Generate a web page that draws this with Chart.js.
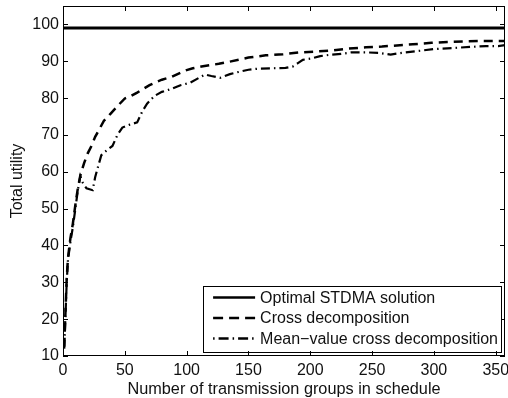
<!DOCTYPE html>
<html>
<head>
<meta charset="utf-8">
<script src="https://cdn.jsdelivr.net/npm/chart.js@4/dist/chart.umd.min.js"></script>
<style>
  html, body { margin: 0; padding: 0; background: #fff; }
  #wrap { width: 508px; height: 398px; }
</style>
</head>
<body>
<div id="wrap"><canvas id="chart"></canvas></div>
<script>
// series
const seriesNames = ["Optimal STDMA solution", "Cross decomposition", "Mean\u2212value cross decomposition"];

const optimalX = [0, 357.5];
const optimalY = [99, 99];

const crossX = [1, 2, 3, 4, 6, 8, 10, 12, 14, 17, 20, 23, 26, 29, 33, 38, 44, 50, 55, 60, 65, 70, 75, 80, 88, 95, 100, 105, 112, 120, 126, 135, 142, 150, 164, 178, 191, 203, 217, 230, 245, 258, 270, 283, 298, 311, 325, 339, 351, 357.5];
const crossY = [12.5, 22, 31, 36.5, 42, 46, 51, 55.5, 59, 62.3, 65, 67, 69.5, 71.3, 73.8, 75.6, 77.8, 79.9, 80.6, 81.5, 82.5, 83.5, 84.3, 85, 85.8, 86.9, 87.6, 88.1, 88.6, 89, 89.3, 89.9, 90.4, 91, 91.6, 91.9, 92.4, 92.6, 92.9, 93.4, 93.8, 94, 94.3, 94.6, 95, 95.2, 95.4, 95.5, 95.5, 95.5];

const meanX = [1, 2, 3, 4, 6, 8, 10, 12, 14, 16, 19, 24, 26, 28, 31, 36, 40, 44, 48, 54, 60, 64, 68, 74, 80, 88, 95, 103, 110, 115, 120, 127, 135, 142, 150, 158, 170, 180, 186, 190, 194, 200, 208, 217, 225, 233, 245, 255, 265, 272, 285, 300, 315, 330, 342, 352, 357.5];
const meanY = [12, 21, 30, 36, 41, 45, 50, 55, 58.8, 57, 55.5, 55, 58.5, 61, 64.5, 66, 67, 70, 72, 72.8, 73.4, 76.3, 78.5, 80.6, 81.7, 82.5, 83.5, 84.2, 85.5, 86.4, 86, 85.5, 86.5, 87.1, 87.7, 88, 88.1, 88.2, 88.6, 89.5, 90.4, 90.7, 91.4, 91.8, 92, 92.4, 92.4, 92.3, 91.8, 92.2, 92.7, 93.3, 93.6, 93.9, 94.1, 94.1, 94.4];

const xTicks = [0, 50, 100, 150, 200, 250, 300, 350];
const yTicks = [10, 20, 30, 40, 50, 60, 70, 80, 90, 100];

const FONT = "'Liberation Sans', Arial, Helvetica, sans-serif";
const ink = "#111";

function pts(xs, ys) {
  return xs.map((x, i) => ({ x: x, y: ys[i] }));
}

// box round the plot with matlab style ticks pointing inward
const boxTicks = {
  id: "boxTicks",
  afterDatasetsDraw(chart) {
    const { ctx, chartArea: a, scales } = chart;
    ctx.save();
    ctx.strokeStyle = "#000";
    ctx.lineWidth = 1;
    ctx.strokeRect(a.left + 0.5, a.top + 0.5, a.right - a.left - 1, a.bottom - a.top - 1);
    ctx.beginPath();
    xTicks.forEach(v => {
      const px = Math.round(scales.x.getPixelForValue(v)) + 0.5;
      ctx.moveTo(px, a.bottom); ctx.lineTo(px, a.bottom - 5);
      ctx.moveTo(px, a.top); ctx.lineTo(px, a.top + 5);
    });
    yTicks.forEach(v => {
      const py = Math.round(scales.y.getPixelForValue(v)) + 0.5;
      ctx.moveTo(a.left, py); ctx.lineTo(a.left + 5, py);
      ctx.moveTo(a.right, py); ctx.lineTo(a.right - 5, py);
    });
    ctx.stroke();
    ctx.restore();
  }
};

// legend box in the lower right corner of the plot
const boxLegend = {
  id: "boxLegend",
  afterDraw(chart) {
    const { ctx, chartArea: a } = chart;
    const sets = chart.data.datasets;
    ctx.save();
    ctx.font = "16px " + FONT;
    const textW = Math.max(...sets.map(d => ctx.measureText(d.label).width));
    const sample = 42, rowH = 20.5;
    const right = a.right - 4, bottom = a.bottom - 5;
    const w = 10 + sample + 5 + textW + 3;
    const h = rowH * sets.length + 4;
    const left = right - w, top = bottom - h;
    ctx.fillStyle = "#fff";
    ctx.fillRect(left, top, w, h);
    ctx.strokeStyle = "#000";
    ctx.lineWidth = 1;
    ctx.strokeRect(Math.round(left) + 0.5, Math.round(top) + 0.5, Math.round(w), Math.round(h));
    sets.forEach((d, i) => {
      const y = top + 12 + i * rowH;
      ctx.beginPath();
      ctx.setLineDash(d.legendDash || []);
      ctx.lineWidth = 2.5;
      ctx.strokeStyle = d.borderColor;
      ctx.moveTo(left + 10, y);
      ctx.lineTo(left + 10 + sample, y);
      ctx.stroke();
      ctx.setLineDash([]);
      ctx.fillStyle = ink;
      ctx.textBaseline = "middle";
      ctx.fillText(d.label, left + 10 + sample + 5, y + 1);
    });
    ctx.restore();
  }
};

new Chart(document.getElementById("chart"), {
  type: "line",
  data: {
    datasets: [
      { label: seriesNames[0], data: pts(optimalX, optimalY), borderColor: "#000", borderWidth: 3, pointRadius: 0, legendDash: [] },
      { label: seriesNames[1], data: pts(crossX, crossY), borderColor: "#000", borderWidth: 2.5, borderDash: [9, 6], pointRadius: 0, legendDash: [10, 6] },
      { label: seriesNames[2], data: pts(meanX, meanY), borderColor: "#000", borderWidth: 2.2, borderDash: [9, 4, 1.5, 4], pointRadius: 0, legendDash: [1.5, 4, 10, 4] }
    ]
  },
  options: {
    responsive: true,
    maintainAspectRatio: false,
    animation: false,
    layout: { padding: { top: 6, right: 3, left: 0, bottom: 0 } },
    plugins: { legend: { display: false }, tooltip: { enabled: false } },
    elements: { line: { tension: 0 } },
    scales: {
      x: {
        type: "linear",
        min: 0,
        max: 357.5,
        grid: { display: false, drawTicks: false },
        border: { display: false },
        afterBuildTicks: s => { s.ticks = xTicks.map(v => ({ value: v })); },
        afterFit: s => { s.height = 42; s.paddingLeft = 0; s.paddingRight = 0; },
        ticks: { color: ink, font: { family: FONT, size: 16 }, padding: 5, maxRotation: 0 },
        title: {
          display: true,
          text: "Number of transmission groups in schedule",
          color: ink,
          font: { family: FONT, size: 16.3, lineHeight: 1 },
          padding: { top: 0, bottom: 0 }
        }
      },
      y: {
        min: 10,
        max: 105,
        grid: { display: false, drawTicks: false },
        border: { display: false },
        afterBuildTicks: s => { s.ticks = yTicks.map(v => ({ value: v })); },
        afterFit: s => { s.width = 63; s.paddingTop = 0; s.paddingBottom = 0; },
        ticks: { color: ink, font: { family: FONT, size: 16 }, padding: 4 },
        title: {
          display: true,
          text: "Total utility",
          color: ink,
          font: { family: FONT, size: 16, lineHeight: 1.2 },
          padding: { top: 8, bottom: 0 }
        }
      }
    }
  },
  plugins: [boxTicks, boxLegend]
});
</script>
</body>
</html>
